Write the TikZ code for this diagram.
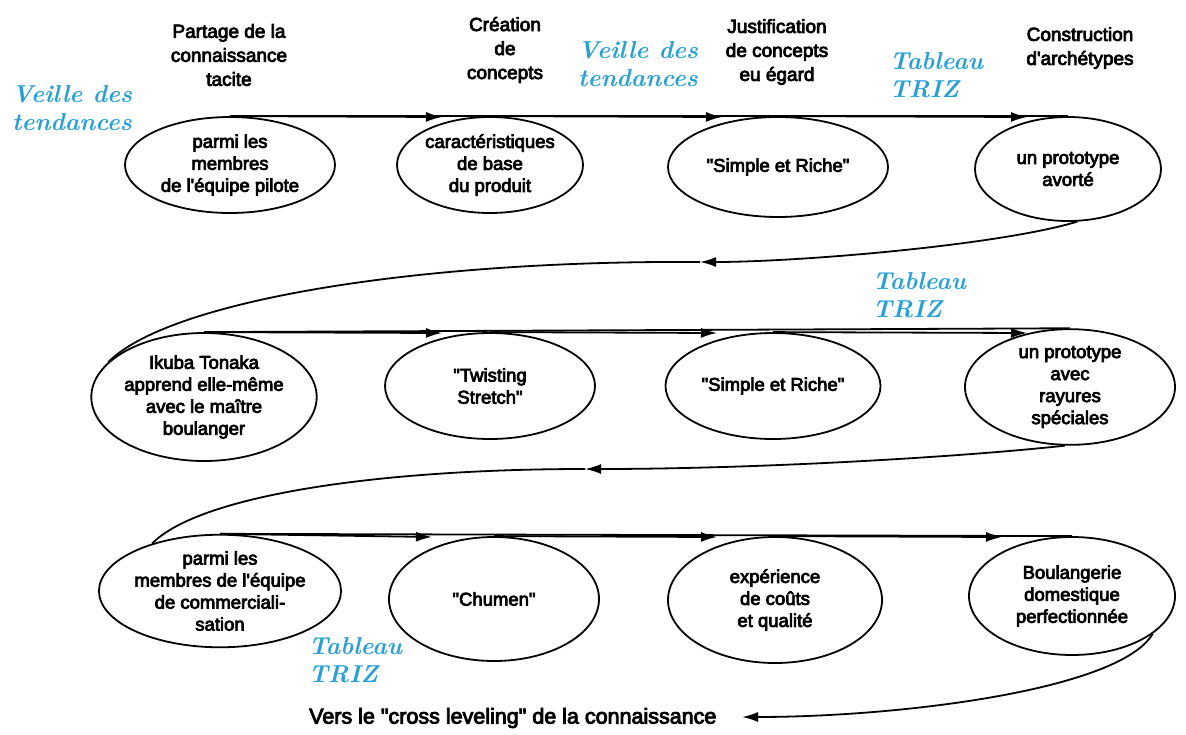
\documentclass[tikz,border=0pt]{standalone}
\usepackage{fontspec}
\newfontfamily\hel[FakeBold=4]{Liberation Sans}
\usetikzlibrary{shapes.geometric,arrows.meta}
\definecolor{triz}{RGB}{40,160,215}
\begin{document}
\begin{tikzpicture}[x=1pt,y=-1pt,
  ell/.style={draw,ellipse,line width=1.8pt,inner sep=0pt,font=\hel\fontsize{18.5}{22}\selectfont,align=center},
  lbl/.style={font=\hel\fontsize{19}{24}\selectfont,align=center},
  trizlbl/.style={text=triz,font=\bfseries\itshape\fontsize{24.5}{28}\selectfont,align=left},
  ln/.style={line width=1.8pt},
  arr/.style={line width=1.8pt,-{Latex[length=16pt,width=10pt]}}]
\useasboundingbox (0,0) rectangle (1186,734);
% row 1
\node[ell,minimum width=210pt,minimum height=96pt] (e1) at (230,165) {parmi les\\membres\\de l'équipe pilote};
\node[ell,minimum width=186pt,minimum height=96pt] (e2) at (490,165) {caractéristiques\\de base\\du produit};
\node[ell,minimum width=220pt,minimum height=100pt] (e3) at (778,167) {"Simple et Riche"};
\node[ell,minimum width=186pt,minimum height=104pt] (e4) at (1068,169) {un prototype\\avorté};
% row 2
\node[ell,minimum width=192pt,minimum height=128pt] (e5) at (204,397) {Ikuba Tonaka\\apprend elle-même\\avec le maître\\boulanger};
\node[ell,minimum width=210pt,minimum height=106pt] (e6) at (490,386) {"Twisting\\Stretch"};
\node[ell,minimum width=215pt,minimum height=106pt] (e7) at (773,386) {"Simple et Riche"};
\node[ell,minimum width=210pt,minimum height=108pt] (e8) at (1070,387) {un prototype\\avec\\rayures\\spéciales};
% row 3
\node[ell,minimum width=220pt,minimum height=108pt] (e9) at (220,591) {parmi les\\membres de l'équipe\\de commerciali-\\sation};
\node[ell,minimum width=210pt,minimum height=124pt] (e10) at (494,599) {"Chumen"};
\node[ell,minimum width=214pt,minimum height=126pt] (e11) at (775,600) {expérience\\de coûts\\et qualité};
\node[ell,minimum width=206pt,minimum height=118pt] (e12) at (1072,596) {Boulangerie\\domestique\\perfectionnée};
% headings
\node[lbl] (t1) at (229,55) {Partage de la\\connaissance\\tacite};
\node[lbl] (t2) at (505,50) {Création\\de\\concepts};
\node[lbl] (t3) at (777,52) {Justification\\de concepts\\eu égard};
\node[lbl] (t4) at (1080,48) {Construction\\d'archétypes};
% blue labels
\node[trizlbl,align=center] (v1) at (72,108) {Veille des\\tendances};
\node[trizlbl,align=center] (v2) at (638,64) {Veille des\\tendances};
\node[trizlbl,anchor=west] (z1) at (886,75) {Tableau\\TRIZ};
\node[trizlbl,anchor=west] (z2) at (869,295) {Tableau\\TRIZ};
\node[trizlbl,anchor=west] (z3) at (305,660) {Tableau\\TRIZ};
% bottom text
\node[lbl,anchor=east,font=\hel\fontsize{21.5}{24}\selectfont] (vers) at (720,718) {Vers le "cross leveling" de la connaissance};
% arrow tip coordinates
\coordinate (p1) at (442,117); \coordinate (p2) at (722,117); \coordinate (p3) at (1027,117);
\coordinate (q1) at (442,333); \coordinate (q2) at (717,333); \coordinate (q3) at (1027,333);
\coordinate (r1) at (432,537); \coordinate (r2) at (717,537); \coordinate (r3) at (1002,537);
\coordinate (a1) at (700,262); \coordinate (a2) at (585,469); \coordinate (a3) at (742,717);
% row lines
\draw[ln] (e1.north) -- (e4.north);
\draw[arr] (e1.north) -- (p1);
\draw[arr] (e2.north) -- (p2);
\draw[arr] (e3.north) -- (p3);
\draw[ln] (e5.north) -- (e8.north);
\draw[arr] (e5.north) -- (q1);
\draw[arr] (e6.north) -- (q2);
\draw[arr] (e7.north) -- (q3);
\draw[ln] (e9.north) -- (e12.north);
\draw[arr] (e9.north) -- (r1);
\draw[arr] (e10.north) -- (r2);
\draw[arr] (e11.north) -- (r3);
% return curves
\draw[arr] (e4.-80) .. controls (1000,245) and (800,262) .. (a1);
\draw[ln] (a1) .. controls (420,260) and (170,300) .. (e5.160);
\draw[arr] (e8.-95) .. controls (950,458) and (750,469) .. (a2);
\draw[ln] (a2) .. controls (380,469) and (200,495) .. (e9.145);
\draw[arr] (e12.-25) .. controls (1120,690) and (900,717) .. (a3);
\end{tikzpicture}
\end{document}
